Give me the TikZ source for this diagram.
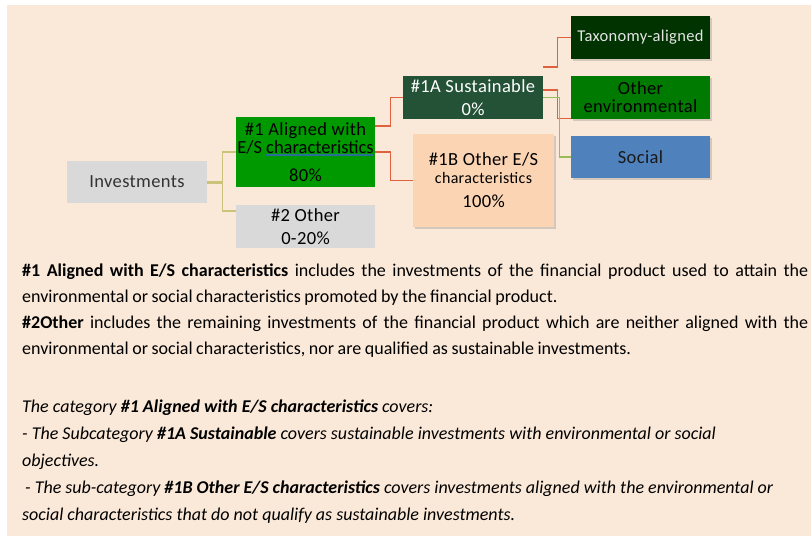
\documentclass[tikz,border=0pt]{standalone}
\usepackage{fontspec}
\setmainfont{Carlito}
\usepackage{tikz}
\usetikzlibrary{positioning, calc, shadows}
\definecolor{pagecolor}{RGB}{250,232,216}
\definecolor{greycolor}{RGB}{217,217,217}
\definecolor{alignedcolor}{RGB}{0,153,0}
\definecolor{sustcolor}{RGB}{36,82,54}
\definecolor{othercolor}{RGB}{251,212,180}
\definecolor{taxocolor}{RGB}{0,51,0}
\definecolor{envcolor}{RGB}{0,122,0}
\definecolor{socialcolor}{RGB}{79,129,189}
\definecolor{redlinecolor}{RGB}{222,98,62}
\definecolor{olivecolor}{RGB}{201,196,122}
\definecolor{greenlinecolor}{RGB}{155,187,89}
\definecolor{markcolor}{RGB}{40,110,150}
\newcommand\boxfont{\fontsize{18.5}{18}\selectfont\addfontfeatures{LetterSpace=2}}
\newcommand\descfont{\fontsize{18}{26}\selectfont\spaceskip=0.2em plus 0.6em minus 0.12em\relax}
\newcommand\markword[1]{\setbox0\hbox{#1}\rlap{\textcolor{markcolor}{\rule[-3pt]{\wd0}{2pt}}}\box0}

\begin{document}
\begin{tikzpicture}[
    x=1pt, y=-1pt,
    box/.style={fill=#1, inner sep=0pt, align=center, font=\boxfont},
    shadowed/.style={drop shadow={shadow xshift=1.5pt, shadow yshift=-1.5pt, opacity=0.25, fill=black!60}},
    redline/.style={draw=redlinecolor, line width=1.4pt},
    oliveline/.style={draw=olivecolor, line width=1.4pt},
    greenline/.style={draw=greenlinecolor, line width=1.4pt},
    desc/.style={text width=786pt, align=justify, inner sep=0pt, font=\descfont},
    note/.style={align=left, inner sep=0pt, font=\fontsize{18}{27}\selectfont\itshape}
]
    \useasboundingbox (0,0) rectangle (811,536);
    \fill[pagecolor] (7,5) rectangle (811,536);

    \node[box=greycolor, text=black!80, minimum width=140pt, minimum height=42pt] (inv) at (137,182) {Investments};
    \node[box=alignedcolor, minimum width=139pt, minimum height=70pt] (aligned) at (305.5,152) {\#1 Aligned with\\{\addfontfeatures{LetterSpace=0}E/S \markword{characteristics}}\\[10pt]80\%};
    \node[box=greycolor, minimum width=139pt, minimum height=43pt] (other2) at (305.5,226.5) {\#2 Other\\[5pt]0-20\%};
    \node[box=sustcolor, text=white, minimum width=140pt, minimum height=43pt] (sust) at (473,97.5) {\#1A Sustainable\\[5pt]0\%};
    \node[box=othercolor, shadowed, minimum width=141pt, minimum height=93pt] (other1b) at (483.5,180.5) {\#1B Other E/S\\{\fontsize{16}{18}\selectfont characteristics}\\[6pt]100\%};
    \node[box=taxocolor, shadowed, text=black!10, minimum width=139pt, minimum height=43pt] (taxo) at (640.5,37.5) {\fontsize{16.5}{18}\selectfont Taxonomy-aligned};
    \node[box=envcolor, shadowed, minimum width=139pt, minimum height=43pt] (env) at (640.5,97.5) {Other\\environmental};
    \node[box=socialcolor, shadowed, text=black!90, minimum width=139pt, minimum height=42pt] (social) at (640.5,157) {Social};

    \draw[oliveline, line width=3pt] (inv.east) -- ++(15,0) coordinate (fork);
    \draw[oliveline] (fork) |- (aligned.west);
    \draw[oliveline] (fork) |- ([yshift=-6pt]other2.north west);
    \draw[redline] ([yshift=-9pt]aligned.north east) -- ++(15,0) |- (sust.west);
    \draw[redline] (aligned.east) -- ++(15,0) |- (other1b.west);
    \draw[redline] ([yshift=9pt]sust.north east) -- ++(14,0) |- (taxo.west);
    \draw[redline] ([yshift=-14pt]sust.north east) -- ++(14,0) |- ([yshift=1pt]env.south west);
    \draw[greenline] (sust.east) -- ++(16,0) |- (social.west);

    \node[desc, anchor=base west] (desc1) at (22,276) {\textbf{\#1 Aligned with E/S characteristics} includes the investments of the financial product used to attain the\linebreak environmental or social characteristics promoted by the financial product.};
    \node[desc, anchor=base west] (desc2) at (22,328) {\textbf{\#2Other} includes the remaining investments of the financial product which are neither aligned with the\linebreak environmental or social characteristics, nor are qualified as sustainable investments.};
    \node[note, anchor=base west] (note) at (22,520) {The category \textbf{\#1 Aligned with E/S characteristics} covers:\\- The Subcategory \textbf{\#1A Sustainable} covers sustainable investments with environmental or social\\objectives.\\\hspace{3pt}- The sub-category \textbf{\#1B Other E/S characteristics} covers investments aligned with the environmental or\\social characteristics that do not qualify as sustainable investments.};
\end{tikzpicture}
\end{document}
